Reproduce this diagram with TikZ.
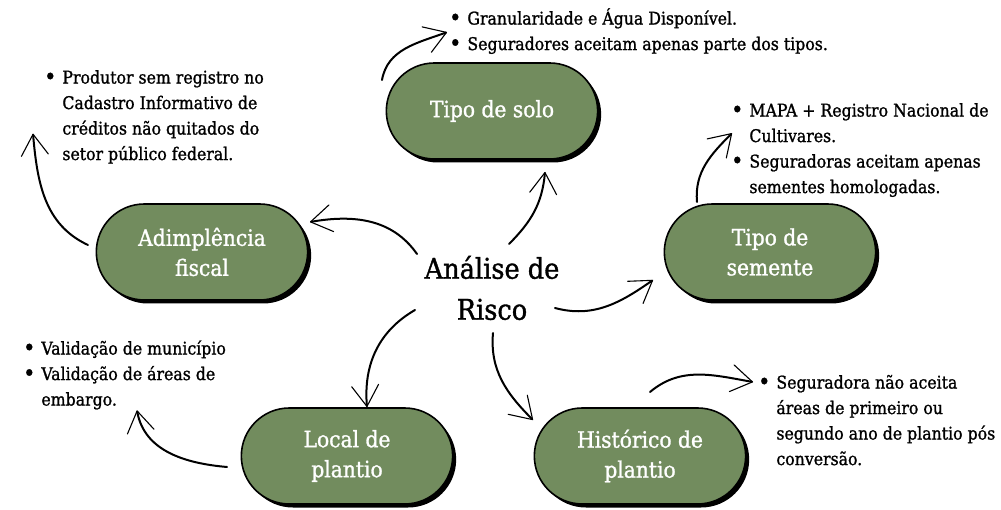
\documentclass[tikz,border=0pt]{standalone}
\usepackage{fontspec}
\setmainfont{DejaVu Serif Condensed}[FakeBold=1.2]
\usetikzlibrary{shapes.misc,shadows,arrows.meta,positioning}
\definecolor{folha}{RGB}{114,140,94}
\newcommand{\bola}{\raisebox{-1pt}{\fontsize{23}{25.5}\selectfont\textbullet}}

\tikzset{
  pill/.style={rounded rectangle, draw=black, line width=1.6pt, fill=folha,
    text=white, minimum width=218pt, minimum height=96pt, align=center,
    font=\fontsize{22.5}{30}\selectfont,
    drop shadow={shadow xshift=3.5pt,shadow yshift=-3.5pt,fill=black,opacity=1}},
  nota/.style={anchor=north west, inner sep=0pt, font=\fontsize{17.5}{25.5}\selectfont},
  seta/.style={line width=2pt, line cap=round,
    -{Straight Barb[length=21pt,width=27pt,line width=1.1pt,round]}},
}

\begin{document}
\begin{tikzpicture}[x=1pt,y=1pt]
\useasboundingbox (0,0) rectangle (1001,509);

\node[inner sep=0pt, align=center, font=\fontsize{28.5}{41}\selectfont] (risco) at (492,221) {Análise de\\Risco};

\node[pill] (solo) at (492,398) {Tipo de solo};
\node[pill] (fiscal) at (202,257) {Adimplência\\fiscal};
\node[pill] (semente) at (770,257) {Tipo de\\semente};
\node[pill] (local) at (347,53) {Local de\\plantio};
\node[pill] (hist) at (640,53) {Histórico de\\plantio};

% notas
\node[nota] (solotxt) at (449,502.5) {\begin{tabular}{@{}l@{\hspace{6pt}}l@{}}
\bola & Granularidade e Água Disponível.\\
\bola & Seguradores aceitam apenas parte dos tipos.
\end{tabular}};
\node[nota] (fltxt) at (44,443.5) {\begin{tabular}{@{}l@{\hspace{6pt}}l@{}}
\bola & Produtor sem registro no\\
 & Cadastro Informativo de\\
 & créditos não quitados do\\
 & setor público federal.
\end{tabular}};
\node[nota] (rtxt) at (731,410.5) {\begin{tabular}{@{}l@{\hspace{6pt}}l@{}}
\bola & MAPA + Registro Nacional de\\
 & Cultivares.\\
\bola & Seguradoras aceitam apenas\\
 & sementes homologadas.
\end{tabular}};
\node[nota] (lltxt) at (23,172.5) {\begin{tabular}{@{}l@{\hspace{6pt}}l@{}}
\bola & Validação de município\\
\bola & Validação de áreas de\\
 & embargo.
\end{tabular}};
\node[nota] (lrtxt) at (758,138.5) {\begin{tabular}{@{}l@{\hspace{6pt}}l@{}}
\bola & Seguradora não aceita\\
 & áreas de primeiro ou\\
 & segundo ano de plantio pós\\
 & conversão.
\end{tabular}};

% setas
\draw[seta] ([shift={(17,44)}]risco.center) to[out=45,in=-95] ([shift={(53,-61)}]solo.center);
\draw[seta] ([shift={(-110,31)}]solo.center) to[out=80,in=200] ([xshift=-2]solotxt.west);
\draw[seta] ([shift={(-75,34)}]risco.center) to[out=125,in=10] ([shift={(108,30)}]fiscal.center);
\draw[seta] ([shift={(-114,7)}]fiscal.center) to[out=155,in=-85] ([shift={(-11,-17)}]fltxt.west);
\draw[seta] ([shift={(63,-20)}]risco.center) to[out=-15,in=215] ([shift={(-117,-28)}]semente.center);
\draw[seta] ([shift={(-73,50)}]semente.center) to[out=95,in=225] ([shift={(1,16.5)}]rtxt.west);
\draw[seta] ([shift={(-77,-22)}]risco.center) to[out=210,in=95] ([shift={(20,49)}]local.center);
\draw[seta] ([shift={(-120,-11)}]local.center) to[out=175,in=-80] ([shift={(114,3)}]lltxt.south west);
\draw[seta] ([shift={(1,-45)}]risco.center) to[out=-95,in=135] ([shift={(-107,36)}]hist.center);
\draw[seta] ([shift={(10,64)}]hist.center) to[out=40,in=170] ([shift={(-5,-11.5)}]lrtxt.north west);

\end{tikzpicture}
\end{document}
